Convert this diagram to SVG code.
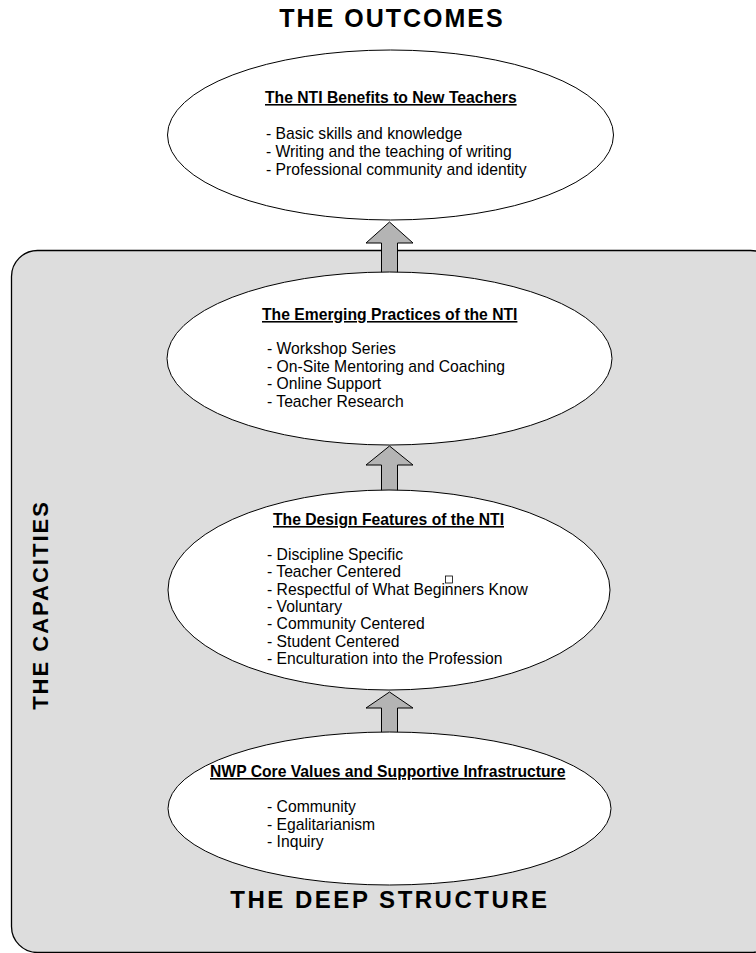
<svg xmlns="http://www.w3.org/2000/svg" width="756" height="953" viewBox="0 0 756 953">
<style>
.hdr{font-family:"Liberation Sans",Arial,sans-serif;font-weight:bold;fill:#000}
.ttl{font-family:"Liberation Sans",Arial,sans-serif;font-weight:bold;font-size:15.7px;text-decoration:underline;fill:#000}
.itm{font-family:"Liberation Sans",Arial,sans-serif;font-size:15.7px;fill:#000}
.ell{fill:#fff;stroke:#000;stroke-width:1}
.arr{fill:#b4b4b4;stroke:#000;stroke-width:1;stroke-linejoin:miter}
</style>
<rect width="756" height="953" fill="#fff"/>
<g id="capacities">
<rect x="11.5" y="250.5" width="765" height="702" rx="26" ry="26" fill="#dddddd" stroke="#000" stroke-width="1.3"/>
<text class="hdr" font-size="22" letter-spacing="2" text-anchor="middle" transform="translate(48,605) rotate(-90)">THE  CAPACITIES</text>
</g>
<text id="outcomes-label" class="hdr" x="392" y="27" font-size="25" letter-spacing="2" text-anchor="middle">THE OUTCOMES</text>
<text id="deep-label" class="hdr" x="390" y="908" font-size="24" letter-spacing="2.5" text-anchor="middle">THE DEEP STRUCTURE</text>
<g id="connectors">
<path class="arr" d="M389.5,222 L413,243 L397.5,243 L397.5,276 L381.5,276 L381.5,243 L366,243 Z"/>
<path class="arr" d="M389.5,446 L413,465 L397.5,465 L397.5,494 L381.5,494 L381.5,465 L366,465 Z"/>
<path class="arr" d="M389.5,692 L413,708 L397.5,708 L397.5,736 L381.5,736 L381.5,708 L366,708 Z"/>
</g>
<g id="benefits">
<ellipse class="ell" cx="390.5" cy="135" rx="223" ry="85"/>
<text class="ttl" x="265" y="103">The NTI Benefits to New Teachers</text>
<text class="itm" x="266" y="139">- Basic skills and knowledge</text>
<text class="itm" x="266" y="157">- Writing and the teaching of writing</text>
<text class="itm" x="266" y="175">- Professional community and identity</text>
</g>
<g id="practices">
<ellipse class="ell" cx="389.5" cy="358.5" rx="222.5" ry="86.5"/>
<text class="ttl" x="262" y="320">The Emerging Practices of the NTI</text>
<text class="itm" x="267" y="354">- Workshop Series</text>
<text class="itm" x="267" y="372">- On-Site Mentoring and Coaching</text>
<text class="itm" x="267" y="389">- Online Support</text>
<text class="itm" x="267" y="407">- Teacher Research</text>
</g>
<g id="features">
<ellipse class="ell" cx="389" cy="590" rx="221" ry="100"/>
<text class="ttl" x="273" y="525">The Design Features of the NTI</text>
<text class="itm" x="267" y="560">- Discipline Specific</text>
<text class="itm" x="267" y="577.3">- Teacher Centered</text>
<text class="itm" x="267" y="594.6">- Respectful of What Beginners Know</text>
<text class="itm" x="267" y="612">- Voluntary</text>
<text class="itm" x="267" y="629.2">- Community Centered</text>
<text class="itm" x="267" y="646.5">- Student Centered</text>
<text class="itm" x="267" y="663.8">- Enculturation into the Profession</text>
<rect x="445.5" y="576" width="7" height="7" fill="#fff" stroke="#000" stroke-width="0.8"/>
</g>
<g id="values">
<ellipse class="ell" cx="389.5" cy="808.5" rx="221.5" ry="76.5"/>
<text class="ttl" x="210" y="777">NWP Core Values and Supportive Infrastructure</text>
<text class="itm" x="267" y="812">- Community</text>
<text class="itm" x="267" y="830">- Egalitarianism</text>
<text class="itm" x="267" y="847">- Inquiry</text>
</g>
</svg>
